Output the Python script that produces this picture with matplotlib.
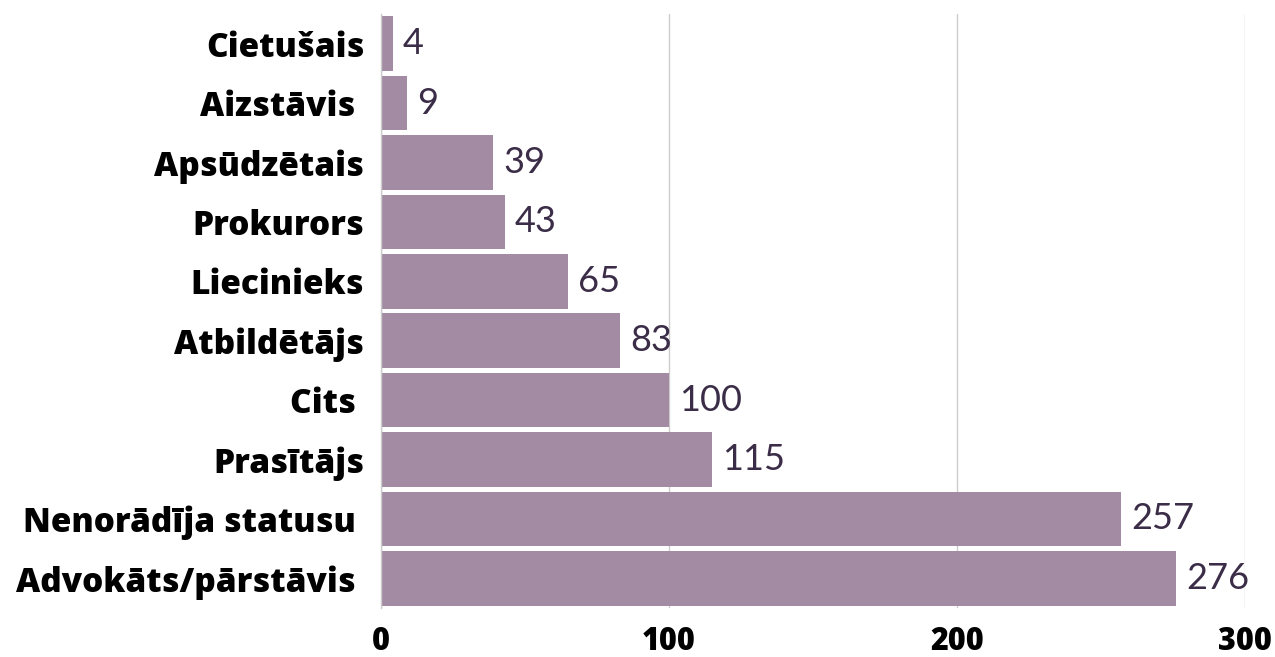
import matplotlib.pyplot as plt
import numpy as np

categories = ["Cietušais", "Aizstāvis ", "Apsūdzētais", "Prokurors", "Liecinieks",
              "Atbildētājs", "Cits ", "Prasītājs", "Nenorādīja statusu ",
              "Advokāts/pārstāvis "]
values = [4, 9, 39, 43, 65, 83, 100, 115, 257, 276]
xticks = [0, 100, 200, 300]

bar_color = "#a38ca3"
text_color = "#3b2d48"

fig = plt.figure(figsize=(12.75, 6.57), dpi=100)
ax = fig.add_axes([381 / 1275, 1 - 608 / 657, 864 / 1275, 594 / 657])

y = np.arange(len(categories))[::-1]
ax.barh(y, values, height=0.92, color=bar_color, zorder=2)

for yi, v in zip(y, values):
    ax.text(v + 3.5, yi, str(v), va="center", ha="left", fontsize=26,
            family="Lato", fontweight="normal", color=text_color, zorder=3)

ax.set_xlim(0, 300)
ax.set_ylim(-0.5, len(categories) - 0.5)
ax.set_yticks(y)
ax.set_yticklabels(categories, fontsize=24, family="Open Sans", fontweight="heavy")
ax.set_xticks(xticks)
ax.set_xticklabels([str(t) for t in xticks], fontsize=22, family="Open Sans",
                   fontweight="heavy")
ax.tick_params(axis="both", length=0)
ax.tick_params(axis="y", pad=12)
ax.tick_params(axis="x", pad=13)

ax.grid(axis="x", color="#cccccc", linewidth=1, zorder=0)
for s in ["top", "right", "bottom"]:
    ax.spines[s].set_visible(False)
ax.spines["left"].set_color("#cccccc")
ax.spines["left"].set_linewidth(1)

fig.savefig("out.png", dpi=100)
